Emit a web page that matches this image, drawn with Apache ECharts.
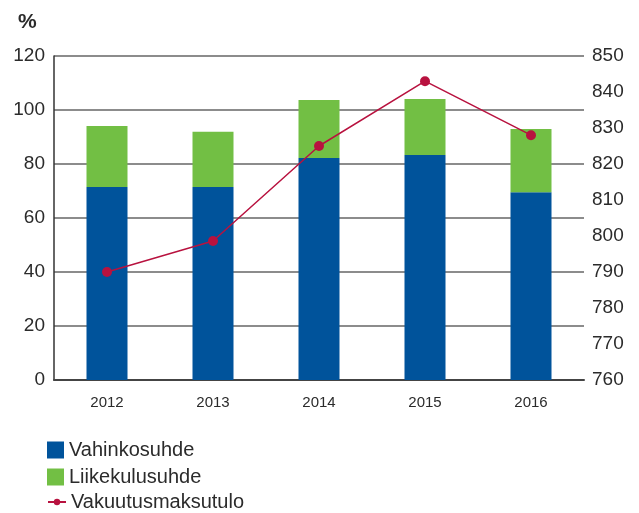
<!DOCTYPE html>
<html>
<head>
<meta charset="utf-8">
<script src="https://cdn.jsdelivr.net/npm/echarts@6/dist/echarts.min.js"></script>
<style>
html, body { margin: 0; padding: 0; background: #fff; }
#main { width: 639px; height: 513px; }
</style>
</head>
<body>
<div id="main"></div>
<script>
var years = ['2012', '2013', '2014', '2015', '2016'];
var vahinkosuhde = [71.5, 71.5, 82.2, 83.3, 69.5];
var liikekulusuhde = [22.6, 20.4, 21.5, 20.8, 23.5];
var vakuutusmaksutulo = [790, 798.6, 825, 843, 828];

var txt = '#2b2b2b';
var font = 'Liberation Sans';

function legendItem(name, top, icon, w, h) {
    return {
        orient: 'vertical',
        left: 42,
        top: top,
        itemWidth: w,
        itemHeight: h,
        itemGap: 0,
        textStyle: { fontSize: 20, color: txt, fontFamily: font },
        data: [icon ? { name: name, icon: icon } : { name: name }]
    };
}

var myChart = echarts.init(document.getElementById('main'));
myChart.setOption({
    animation: false,
    textStyle: { fontFamily: font },
    title: {
        text: '%',
        left: 13,
        top: 7,
        textStyle: { fontSize: 21, fontWeight: 'bold', color: txt, fontFamily: font }
    },
    legend: [
        legendItem('Vahinkosuhde', 435, 'rect', 17, 17),
        legendItem('Liikekulusuhde', 462, 'rect', 17, 17),
        legendItem('Vakuutusmaksutulo', 487, null, 18, 8)
    ],
    grid: {
        left: 54,
        right: 55,
        top: 56,
        bottom: 133
    },
    xAxis: {
        type: 'category',
        data: years,
        axisLine: { lineStyle: { color: '#444', width: 2 } },
        axisTick: { show: false },
        axisLabel: { color: txt, fontSize: 15, margin: 15, fontFamily: font }
    },
    yAxis: [
        {
            type: 'value',
            min: 0,
            max: 120,
            interval: 20,
            axisLine: { show: true, lineStyle: { color: '#333', width: 1.5 } },
            axisTick: { show: false },
            axisLabel: { color: txt, fontSize: 19, margin: 9, fontFamily: font },
            splitLine: { lineStyle: { color: '#8c8c8c', width: 2 } }
        },
        {
            type: 'value',
            min: 760,
            max: 850,
            interval: 10,
            axisLine: { show: false },
            axisTick: { show: false },
            axisLabel: { color: txt, fontSize: 19, margin: 8, fontFamily: font },
            splitLine: { show: false }
        }
    ],
    series: [
        {
            name: 'Vahinkosuhde',
            type: 'bar',
            stack: 'suhde',
            barWidth: 41,
            itemStyle: { color: '#00539b' },
            data: vahinkosuhde
        },
        {
            name: 'Liikekulusuhde',
            type: 'bar',
            stack: 'suhde',
            barWidth: 41,
            itemStyle: { color: '#72bf44' },
            data: liikekulusuhde
        },
        {
            name: 'Vakuutusmaksutulo',
            type: 'line',
            yAxisIndex: 1,
            symbol: 'circle',
            symbolSize: 10,
            lineStyle: { color: '#b8123f', width: 1.5 },
            itemStyle: { color: '#b8123f' },
            data: vakuutusmaksutulo
        }
    ]
});
</script>
</body>
</html>
